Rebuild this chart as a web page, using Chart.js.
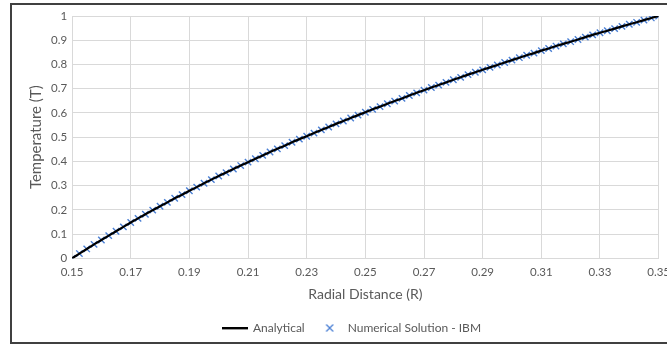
<!DOCTYPE html>
<html>
<head>
<meta charset="utf-8">
<title>Temperature vs Radial Distance</title>
<script src="https://cdn.jsdelivr.net/npm/chart.js@4.4.1/dist/chart.umd.min.js"></script>
<style>
  html, body { margin: 0; padding: 0; background: #fff; overflow: hidden; }
  #wrap { position: relative; width: 667px; height: 344px; overflow: hidden; }
  #chart { position: absolute; left: 0; top: 0; }
  #frame {
    position: absolute; left: 10px; top: 3px; width: 700px; height: 337px;
    border: 2px solid #404040; pointer-events: none;
  }
</style>
</head>
<body>
<div id="wrap">
  <canvas id="chart" width="677" height="344"></canvas>
  <div id="frame"></div>
</div>
<script>
// radial positions (R)
const radius = [
  0.1500, 0.1525, 0.1550, 0.1575, 0.1600, 0.1625, 0.1650, 0.1675, 0.1700, 0.1725,
  0.1750, 0.1775, 0.1800, 0.1825, 0.1850, 0.1875, 0.1900, 0.1925, 0.1950, 0.1975,
  0.2000, 0.2025, 0.2050, 0.2075, 0.2100, 0.2125, 0.2150, 0.2175, 0.2200, 0.2225,
  0.2250, 0.2275, 0.2300, 0.2325, 0.2350, 0.2375, 0.2400, 0.2425, 0.2450, 0.2475,
  0.2500, 0.2525, 0.2550, 0.2575, 0.2600, 0.2625, 0.2650, 0.2675, 0.2700, 0.2725,
  0.2750, 0.2775, 0.2800, 0.2825, 0.2850, 0.2875, 0.2900, 0.2925, 0.2950, 0.2975,
  0.3000, 0.3025, 0.3050, 0.3075, 0.3100, 0.3125, 0.3150, 0.3175, 0.3200, 0.3225,
  0.3250, 0.3275, 0.3300, 0.3325, 0.3350, 0.3375, 0.3400, 0.3425, 0.3450, 0.3475,
  0.3500
];

// temperature (T) at each radius
const temperature = [
  0.000, 0.020, 0.039, 0.058, 0.076, 0.094, 0.112, 0.130, 0.148, 0.165,
  0.182, 0.199, 0.215, 0.231, 0.248, 0.263, 0.279, 0.294, 0.310, 0.325,
  0.340, 0.354, 0.369, 0.383, 0.397, 0.411, 0.425, 0.439, 0.452, 0.465,
  0.479, 0.492, 0.504, 0.517, 0.530, 0.542, 0.555, 0.567, 0.579, 0.591,
  0.603, 0.615, 0.626, 0.638, 0.649, 0.660, 0.672, 0.683, 0.694, 0.705,
  0.715, 0.726, 0.737, 0.747, 0.758, 0.768, 0.778, 0.788, 0.798, 0.808,
  0.818, 0.828, 0.838, 0.847, 0.857, 0.866, 0.876, 0.885, 0.894, 0.903,
  0.913, 0.922, 0.931, 0.939, 0.948, 0.957, 0.966, 0.974, 0.983, 0.992,
  1.000
];

const xTicks = [0.15, 0.17, 0.19, 0.21, 0.23, 0.25, 0.27, 0.29, 0.31, 0.33, 0.35];
const yTicks = [0, 0.1, 0.2, 0.3, 0.4, 0.5, 0.6, 0.7, 0.8, 0.9, 1];

const points = radius.map((r, i) => ({ x: r, y: temperature[i] }));

const textGrey = '#595959';
const gridGrey = '#d9d9d9';
const lineColor = '#000000';
const markerColor = '#4a7fd4';
const fontFamily = 'Lato, "Open Sans", sans-serif';

// small legend glyphs: a long dash for the line, an "x" for the markers
function lineGlyph() {
  const c = document.createElement('canvas');
  c.width = 26; c.height = 4;
  const g = c.getContext('2d');
  g.fillStyle = lineColor;
  g.fillRect(0, 1, 26, 2.4);
  return c;
}
function crossGlyph() {
  const c = document.createElement('canvas');
  c.width = 10; c.height = 10;
  const g = c.getContext('2d');
  g.strokeStyle = markerColor;
  g.lineWidth = 1.3;
  g.beginPath();
  g.moveTo(1.5, 1.5); g.lineTo(8.5, 8.5);
  g.moveTo(8.5, 1.5); g.lineTo(1.5, 8.5);
  g.stroke();
  return c;
}
const legendGlyphs = [lineGlyph(), crossGlyph()];

new Chart(document.getElementById('chart'), {
  type: 'scatter',
  data: {
    datasets: [
      {
        label: 'Analytical',
        data: points,
        showLine: true,
        borderColor: lineColor,
        backgroundColor: lineColor,
        borderWidth: 2.2,
        pointRadius: 0,
        order: 1
      },
      {
        label: 'Numerical Solution - IBM',
        data: points,
        showLine: false,
        borderColor: markerColor,
        backgroundColor: markerColor,
        pointStyle: 'crossRot',
        pointRadius: 4.5,
        pointBorderWidth: 1.4,
        order: 2
      }
    ]
  },
  options: {
    responsive: false,
    animation: false,
    layout: { padding: { left: 27, top: 16, right: 0, bottom: 0 } },
    plugins: {
      tooltip: { enabled: false },
      legend: {
        position: 'bottom',
        labels: {
          usePointStyle: true,
          pointStyleWidth: 24,
          boxHeight: 8,
          padding: 13,
          color: textGrey,
          font: { family: fontFamily, size: 12 },
          generateLabels: chart => chart.data.datasets.map((ds, i) => ({
            text: ds.label,
            datasetIndex: i,
            pointStyle: legendGlyphs[i],
            fontColor: textGrey,
            lineWidth: 0,
            hidden: false
          }))
        }
      }
    },
    scales: {
      x: {
        type: 'linear',
        min: 0.15,
        max: 0.35,
        afterBuildTicks: scale => { scale.ticks = xTicks.map(v => ({ value: v })); },
        ticks: {
          color: textGrey,
          font: { family: fontFamily, size: 11.5 },
          maxRotation: 0,
          padding: 7,
          callback: v => v.toFixed(2)
        },
        grid: { color: gridGrey, drawTicks: false },
        border: { color: gridGrey },
        title: {
          display: true,
          text: 'Radial Distance (R)',
          color: textGrey,
          font: { family: fontFamily, size: 14 },
          padding: { top: 0, bottom: 6 }
        }
      },
      y: {
        min: 0,
        max: 1,
        afterBuildTicks: scale => { scale.ticks = yTicks.map(v => ({ value: v })); },
        ticks: {
          color: textGrey,
          font: { family: fontFamily, size: 11.5 },
          padding: 5,
          callback: v => String(Math.round(v * 10) / 10)
        },
        grid: { color: gridGrey, drawTicks: false },
        border: { color: gridGrey },
        title: {
          display: true,
          text: 'Temperature (T)',
          color: textGrey,
          font: { family: fontFamily, size: 15 },
          padding: { top: 0, bottom: 1 }
        }
      }
    }
  }
});
</script>
</body>
</html>
